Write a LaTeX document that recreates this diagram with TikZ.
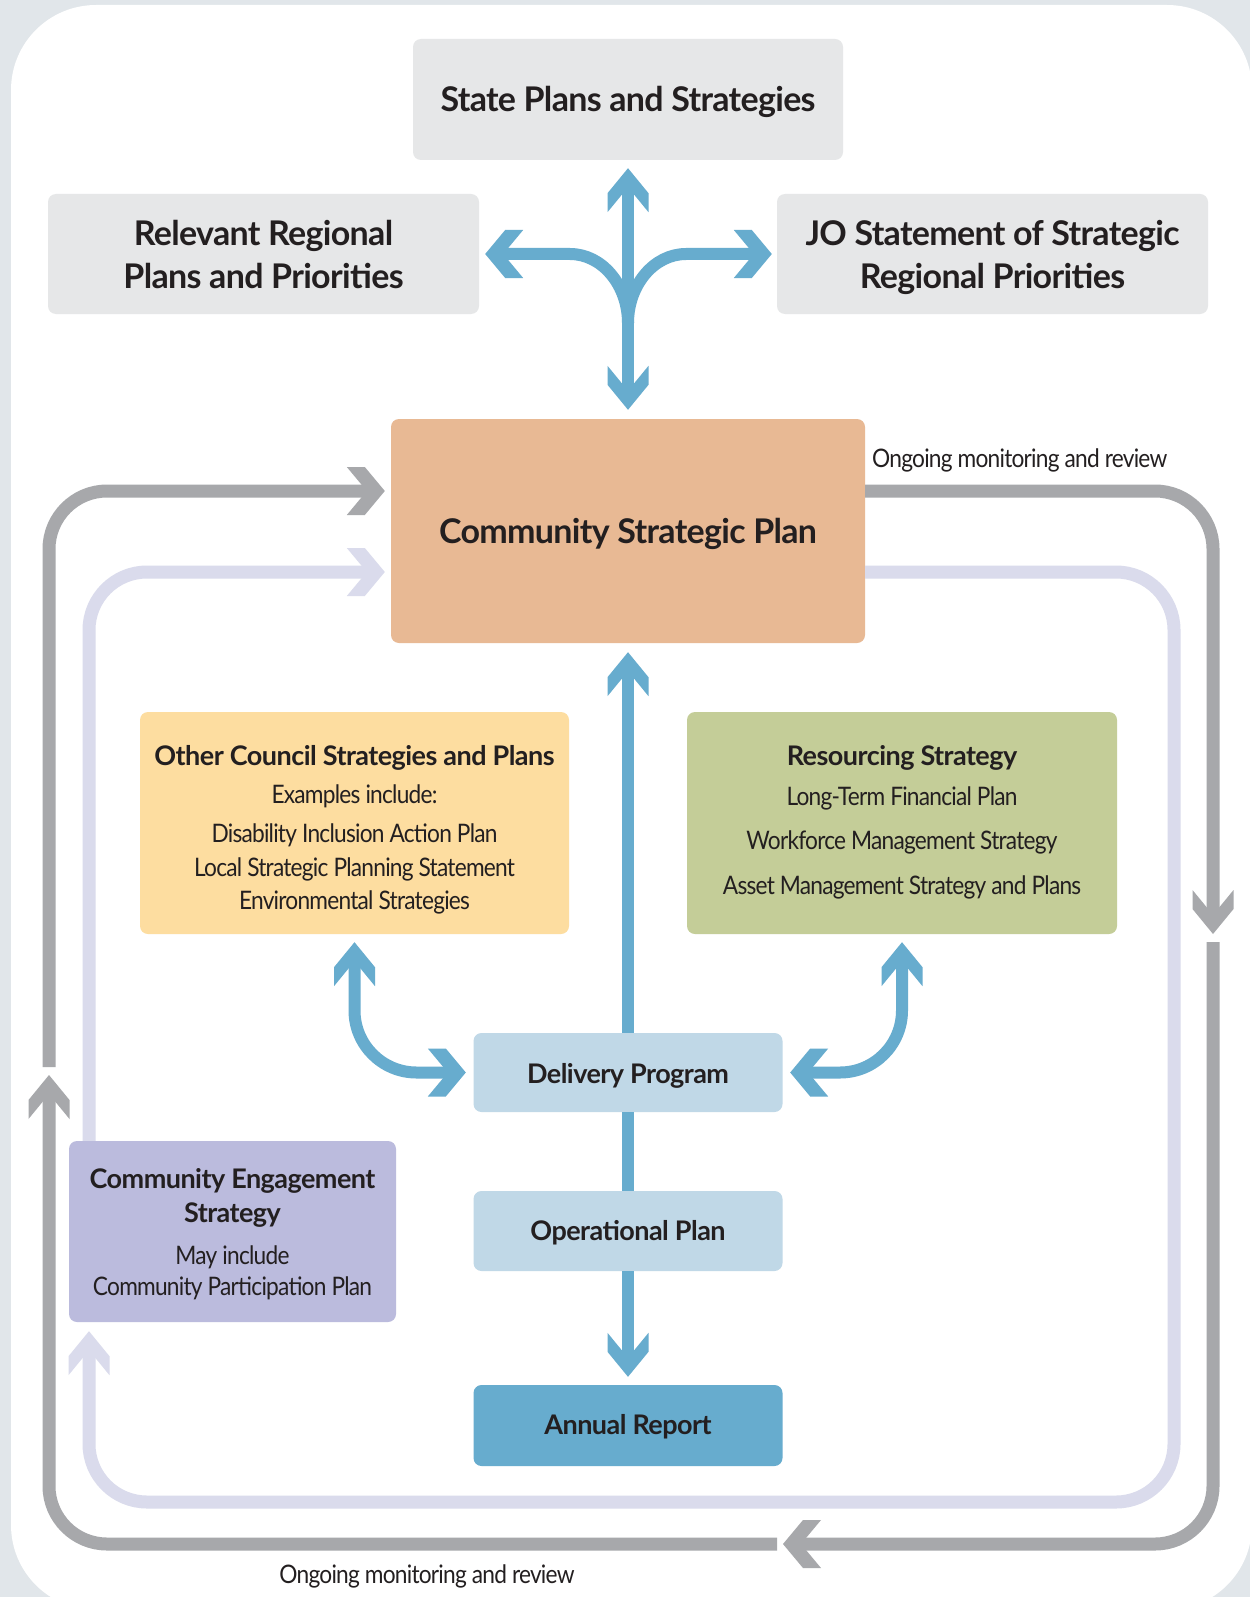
\documentclass[tikz,border=0pt]{standalone}
\usepackage{fontspec}
\setmainfont{Lato}
\newfontfamily\smallfont{Lato}[FakeStretch=0.89, LetterSpace=-3]
\usetikzlibrary{arrows.meta}

\definecolor{bgout}{HTML}{E1E6EA}
\definecolor{boxgray}{HTML}{E6E7E8}
\definecolor{cspcol}{HTML}{E8B994}
\definecolor{othercol}{HTML}{FDDDA0}
\definecolor{rescol}{HTML}{C4CD98}
\definecolor{lblue}{HTML}{C0D8E7}
\definecolor{dblue}{HTML}{67ACCE}
\definecolor{cecol}{HTML}{BBBBDD}
\definecolor{loopgray}{HTML}{A7A8AB}
\definecolor{loopviolet}{HTML}{DADBEC}
\definecolor{ink}{HTML}{231F20}

\makeatletter
\pgfdeclarearrow{
  name = Chev,
  defaults = {length = 40pt, width = 44pt, inset = 22pt},
  setup code = {
    \pgfarrowssettipend{0pt}
    \pgfarrowssetbackend{-\pgfarrowlength}
    \pgfarrowssetlineend{\pgfarrowinset\advance\pgf@x by-\pgfarrowlength\advance\pgf@x by1pt}
    \pgfarrowshullpoint{0pt}{0pt}
    \pgfarrowsupperhullpoint{-\pgfarrowlength}{.5\pgfarrowwidth}
    \pgfarrowssavethe\pgfarrowlength
    \pgfarrowssavethe\pgfarrowwidth
    \pgfarrowssavethe\pgfarrowinset
  },
  drawing code = {
    \pgfpathmoveto{\pgfqpoint{0pt}{0pt}}
    \pgfpathlineto{\pgfqpoint{-\pgfarrowinset}{.5\pgfarrowwidth}}
    \pgfpathlineto{\pgfqpoint{-\pgfarrowlength}{.5\pgfarrowwidth}}
    \pgfpathlineto{\pgfqpoint{\pgfarrowinset\advance\pgf@x by-\pgfarrowlength}{0pt}}
    \pgfpathlineto{\pgfqpoint{-\pgfarrowlength}{-.5\pgfarrowwidth}}
    \pgfpathlineto{\pgfqpoint{-\pgfarrowinset}{-.5\pgfarrowwidth}}
    \pgfpathclose
    \pgfusepathqfill
  },
  parameters = {\the\pgfarrowlength,\the\pgfarrowwidth,\the\pgfarrowinset},
}
\makeatother

\tikzset{
  chevV/.tip = {Chev[length=44pt,width=41pt,inset=25pt]},
  chevH/.tip = {Chev[length=38pt,width=48pt,inset=20pt]},
  box/.style = {rounded corners=8pt, inner sep=0pt, draw=none},
  bigt/.style = {font=\fontsize{34}{40}\selectfont\bfseries\addfontfeature{LetterSpace=-2}, text=ink, inner sep=0pt, anchor=base},
  midt/.style = {font=\fontsize{27}{32}\selectfont\bfseries\addfontfeature{LetterSpace=-2}, text=ink, inner sep=0pt, anchor=base},
  smallt/.style = {font=\smallfont\fontsize{25.5}{30}\selectfont, text=ink, inner sep=0pt, anchor=base},
  blueline/.style = {draw=dblue, line width=12pt},
  grayloop/.style = {draw=loopgray, line width=13pt, rounded corners=58pt},
  violetloop/.style = {draw=loopviolet, line width=13pt, rounded corners=58pt},
}

\begin{document}
\begin{tikzpicture}[x=1pt,y=-1pt]
\useasboundingbox (0,0) rectangle (1250,1597);
\clip (0,0) rectangle (1250,1597);
\fill[bgout] (0,0) rectangle (1250,1597);
\fill[white, rounded corners=85pt] (11,5) rectangle (1252,1610);

% boxes
\node[box, fill=boxgray, minimum width=430pt, minimum height=121pt] (state) at (628,99.5) {};
\node[box, fill=boxgray, minimum width=431pt, minimum height=120pt] (reg) at (263.5,254) {};
\node[box, fill=boxgray, minimum width=431pt, minimum height=120pt] (jo) at (992.5,254) {};
\node[box, fill=cspcol, minimum width=474pt, minimum height=224pt] (csp) at (628,531) {};
\node[box, fill=othercol, minimum width=429pt, minimum height=222pt] (other) at (354.5,823) {};
\node[box, fill=rescol, minimum width=430pt, minimum height=222pt] (res) at (902,823) {};
\node[box, fill=lblue, minimum width=309pt, minimum height=79pt] (dp) at (628,1072.5) {};
\node[box, fill=lblue, minimum width=309pt, minimum height=80pt] (op) at (628,1231) {};
\node[box, fill=dblue, minimum width=309pt, minimum height=81pt] (ar) at (628,1425.5) {};
\node[box, fill=cecol, minimum width=327pt, minimum height=181pt] (ce) at (232.5,1231.5) {};

% free ends of the loops
\coordinate (fork) at (628,323);
\coordinate (g2) at (1213,942);
\coordinate (g3) at (777,1544);
\coordinate (g4) at (49,1067);

% grey monitoring loop
\draw[grayloop, -chevV] (csp.east |- 0,491) -| (1213,934);
\draw[grayloop, -chevH] (g2) |- (783,1544);
\draw[grayloop, -chevV] (g3) -| (49,1075);
\draw[grayloop, -chevH, shorten >=6pt] (g4) |- (csp.west |- 0,491);

% violet engagement loop
\draw[violetloop, -chevV, shorten >=9pt] (csp.east |- 0,572) -| (1174,1502) -| (ce.south -| 89,0);
\draw[violetloop, -chevH, shorten >=6pt] (ce.north -| 89,0) |- (csp.west |- 0,572);

% blue connectors
\draw[blueline, chevV-chevV, shorten <=8pt, shorten >=9pt] (state.south) -- (csp.north);
\draw[blueline, -chevH, shorten >=6pt] (fork) .. controls (628,285) and (602,254) .. (570,254) -- (reg.east);
\draw[blueline, -chevH, shorten >=5pt] (fork) .. controls (628,285) and (654,254) .. (686,254) -- (jo.west);
\draw[blueline, -chevV, shorten >=9pt] (dp.north) -- (csp.south);
\draw[blueline] (dp.south) -- (op.north);
\draw[blueline, -chevV, shorten >=8pt] (op.south) -- (ar.north);
\draw[blueline, rounded corners=62pt, chevV-chevH, shorten <=8pt, shorten >=7.5pt] (other.south) |- (dp.west);
\draw[blueline, rounded corners=62pt, chevV-chevH, shorten <=8pt, shorten >=7.5pt] (res.south) |- (dp.east);

% texts
\node[bigt] (t-state) at (628,112) {State Plans and Strategies};
\node[bigt] (t-reg1) at (263.5,245.5) {Relevant Regional};
\node[bigt] (t-reg2) at (263.5,288) {Plans and Priorities};
\node[bigt] (t-jo1) at (992.5,245.5) {JO Statement of Strategic};
\node[bigt] (t-jo2) at (992.5,288) {Regional Priorities};
\node[bigt] (t-csp) at (628,543) {Community Strategic Plan};

\node[midt] (t-other) at (354.5,765) {Other Council Strategies and Plans};
\node[smallt] (t-o1) at (354.5,803) {Examples include:};
\node[smallt] (t-o2) at (354.5,842) {Disability Inclusion Action Plan};
\node[smallt] (t-o3) at (354.5,876) {Local Strategic Planning Statement};
\node[smallt] (t-o4) at (354.5,909) {Environmental Strategies};

\node[midt] (t-res) at (902,765) {Resourcing Strategy};
\node[smallt] (t-r1) at (902,805) {Long-Term Financial Plan};
\node[smallt] (t-r2) at (902,849.5) {Workforce Management Strategy};
\node[smallt] (t-r3) at (902,894.5) {Asset Management Strategy and Plans};

\node[midt] (t-dp) at (628,1083) {Delivery Program};
\node[midt] (t-op) at (628,1240.5) {Operational Plan};
\node[midt] (t-ar) at (628,1434) {Annual Report};

\node[midt] (t-ce1) at (232.5,1188.5) {Community Engagement};
\node[midt] (t-ce2) at (232.5,1222) {Strategy};
\node[smallt] (t-ce3) at (232.5,1264) {May include};
\node[smallt] (t-ce4) at (232.5,1295) {Community Participation Plan};

\node[smallt, anchor=base west] (t-mon1) at (872,467.5) {Ongoing monitoring and review};
\node[smallt] (t-mon2) at (427,1583.5) {Ongoing monitoring and review};
\end{tikzpicture}
\end{document}
